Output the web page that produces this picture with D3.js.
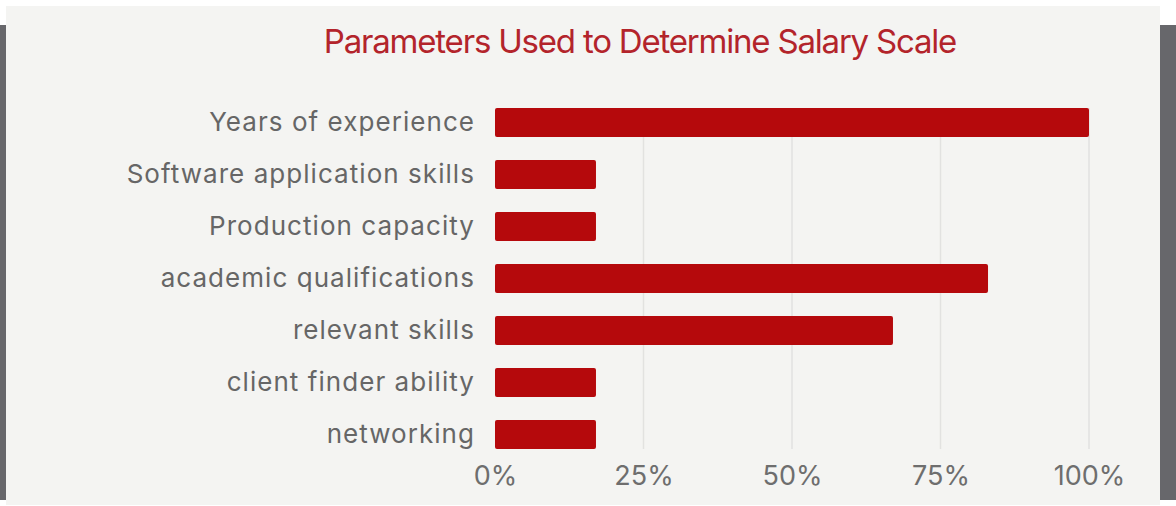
<!DOCTYPE html>
<html>
<head>
<meta charset="utf-8">
<script src="https://cdn.jsdelivr.net/npm/d3@7"></script>
<style>
  html, body { margin: 0; padding: 0; background: #ffffff; }
  svg { display: block; }
</style>
</head>
<body>
<svg id="chart" width="1176" height="506"></svg>
<script>
const titleText = "Parameters Used to Determine Salary Scale";
const categories = [
  "Years of experience",
  "Software application skills",
  "Production capacity",
  "academic qualifications",
  "relevant skills",
  "client finder ability",
  "networking"
];
const values = [100, 17, 17, 83, 67, 17, 17];
const tickValues = [0, 25, 50, 75, 100];
const tickLabels = ["0%", "25%", "50%", "75%", "100%"];

const svg = d3.select("#chart");

// page frame
svg.append("rect").attr("x", 6).attr("y", 6).attr("width", 1154).attr("height", 499).attr("fill", "#f4f4f2");
svg.append("rect").attr("x", 0).attr("y", 25).attr("width", 6).attr("height", 475).attr("fill", "#67676b");
svg.append("rect").attr("x", 1160).attr("y", 25).attr("width", 16).attr("height", 475).attr("fill", "#67676b");

const x = d3.scaleLinear().domain([0, 100]).range([495, 1089]);
const y = d3.scaleBand().domain(categories).range([85, 472]).paddingInner(0.44).paddingOuter(0.44);

const gridTop = y(categories[0]);
const gridBottom = y(categories[categories.length - 1]) + y.bandwidth();

// grid
svg.append("g").selectAll("line").data(tickValues.slice(1)).join("line")
  .attr("x1", d => x(d)).attr("x2", d => x(d))
  .attr("y1", gridTop).attr("y2", gridBottom)
  .attr("stroke", "#e2e2e0").attr("stroke-width", 1.5);

// bars
svg.append("g").selectAll("rect").data(values).join("rect")
  .attr("x", x(0))
  .attr("y", (d, i) => y(categories[i]))
  .attr("width", d => x(d) - x(0))
  .attr("height", y.bandwidth())
  .attr("rx", 2)
  .attr("fill", "#b5090c");

// y axis labels
const yAxis = d3.axisLeft(y).tickSize(0).tickPadding(20);
const gy = svg.append("g").attr("transform", `translate(${x(0)},0)`).call(yAxis);
gy.select(".domain").remove();
gy.selectAll("text")
  .attr("fill", "#666666")
  .style("font-family", "Inter, sans-serif")
  .style("font-size", "26px")
  .style("letter-spacing", "1.05px");

// x axis labels
const xAxis = d3.axisBottom(x).tickValues(tickValues).tickFormat((d, i) => tickLabels[i]).tickSize(0).tickPadding(0);
const gx = svg.append("g").attr("transform", `translate(0,466)`).call(xAxis);
gx.select(".domain").remove();
gx.selectAll("text")
  .attr("fill", "#6e6e6e")
  .attr("dy", "0.71em")
  .style("font-family", "Inter, sans-serif")
  .style("font-size", "27px");

// title
svg.append("text")
  .attr("x", 640).attr("y", 53)
  .attr("text-anchor", "middle")
  .attr("fill", "#b3242b")
  .style("font-family", "Inter, sans-serif")
  .style("font-size", "33px")
  .style("letter-spacing", "-1.2px")
  .text(titleText);
</script>
</body>
</html>
